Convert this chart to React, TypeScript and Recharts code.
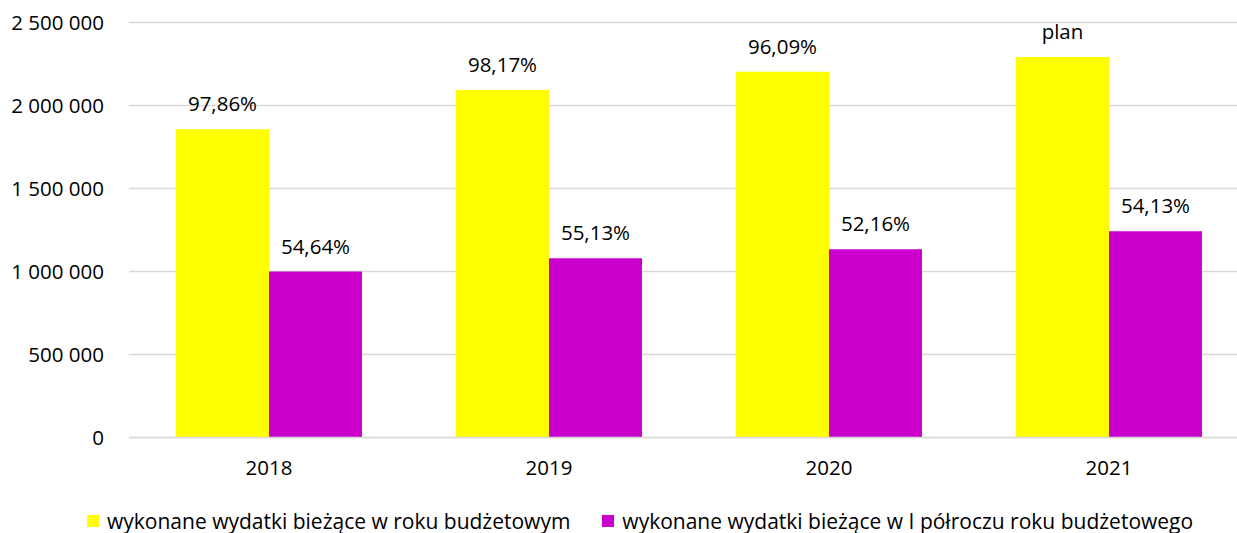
import React from 'react';
import { BarChart, Bar, XAxis, YAxis, CartesianGrid, Legend, LabelList } from 'recharts';

const years = ['2018', '2019', '2020', '2021'];
const annualSpending = [1856600, 2093400, 2203600, 2292200];
const halfYearSpending = [1000000, 1079500, 1133700, 1242200];
const annualLabels = ['97,86%', '98,17%', '96,09%', 'plan'];
const halfYearLabels = ['54,64%', '55,13%', '52,16%', '54,13%'];
const yTicks = [0, 500000, 1000000, 1500000, 2000000, 2500000];

const seriesNames = [
  'wykonane wydatki bieżące w roku budżetowym',
  'wykonane wydatki bieżące w I półroczu roku budżetowego',
];
const seriesColors = ['#FFFF00', '#CC00CC'];

const data = years.map((year, i) => ({
  year,
  annual: annualSpending[i],
  half: halfYearSpending[i],
  annualLabel: annualLabels[i],
  halfLabel: halfYearLabels[i],
}));

const FONT = '"Open Sans", sans-serif';
const formatThousands = (value: number) =>
  value.toString().replace(/\B(?=(\d{3})+(?!\d))/g, ' ');

// legend drawn as html, bottom strip of the chart
const LegendContent = () => (
  <div
    style={{
      height: 50.5,
      boxSizing: 'border-box',
      paddingTop: 27,
      paddingLeft: 87,
      display: 'flex',
      alignItems: 'flex-start',
      fontFamily: FONT,
      fontSize: 21,
      lineHeight: '23px',
      color: '#000',
      whiteSpace: 'nowrap',
    }}
  >
    {seriesNames.map((name, i) => (
      <div key={name} style={{ display: 'flex', alignItems: 'center', marginRight: 32 }}>
        <span style={{ width: 12, height: 12, background: seriesColors[i], marginRight: 8 }} />
        <span>{name}</span>
      </div>
    ))}
  </div>
);

export default function App() {
  return (
    <div style={{ position: 'absolute', left: 0, top: 0, width: 1237, height: 533, overflow: 'hidden', background: '#fff' }}>
      <BarChart
        width={1260}
        height={533}
        data={data}
        margin={{ top: 22.5, right: 11, left: 0, bottom: 0 }}
        barCategoryGap={47}
        barGap={0}
      >
        <CartesianGrid vertical={false} stroke="#d9d9d9" strokeWidth={1.3} />
        <XAxis
          dataKey="year"
          axisLine={{ stroke: '#d9d9d9', strokeWidth: 1.3 }}
          tickLine={false}
          tickSize={0}
          tickMargin={23}
          height={45}
          tick={{ fontSize: 20.5, fill: '#000', fontFamily: FONT }}
        />
        <YAxis
          domain={[0, 2500000]}
          ticks={yTicks}
          axisLine={false}
          tickLine={false}
          tickSize={0}
          tickMargin={25}
          width={129}
          tickFormatter={formatThousands}
          tick={{ fontSize: 20.5, fill: '#000', fontFamily: FONT }}
        />
        <Legend verticalAlign="bottom" content={<LegendContent />} wrapperStyle={{ left: 0, width: 1237 }} />
        <Bar dataKey="annual" name={seriesNames[0]} fill={seriesColors[0]} isAnimationActive={false}>
          <LabelList dataKey="annualLabel" position="top" offset={18} style={{ fontSize: 20.5, fill: '#000', fontFamily: FONT }} />
        </Bar>
        <Bar dataKey="half" name={seriesNames[1]} fill={seriesColors[1]} isAnimationActive={false}>
          <LabelList dataKey="halfLabel" position="top" offset={18} style={{ fontSize: 20.5, fill: '#000', fontFamily: FONT }} />
        </Bar>
      </BarChart>
    </div>
  );
}
